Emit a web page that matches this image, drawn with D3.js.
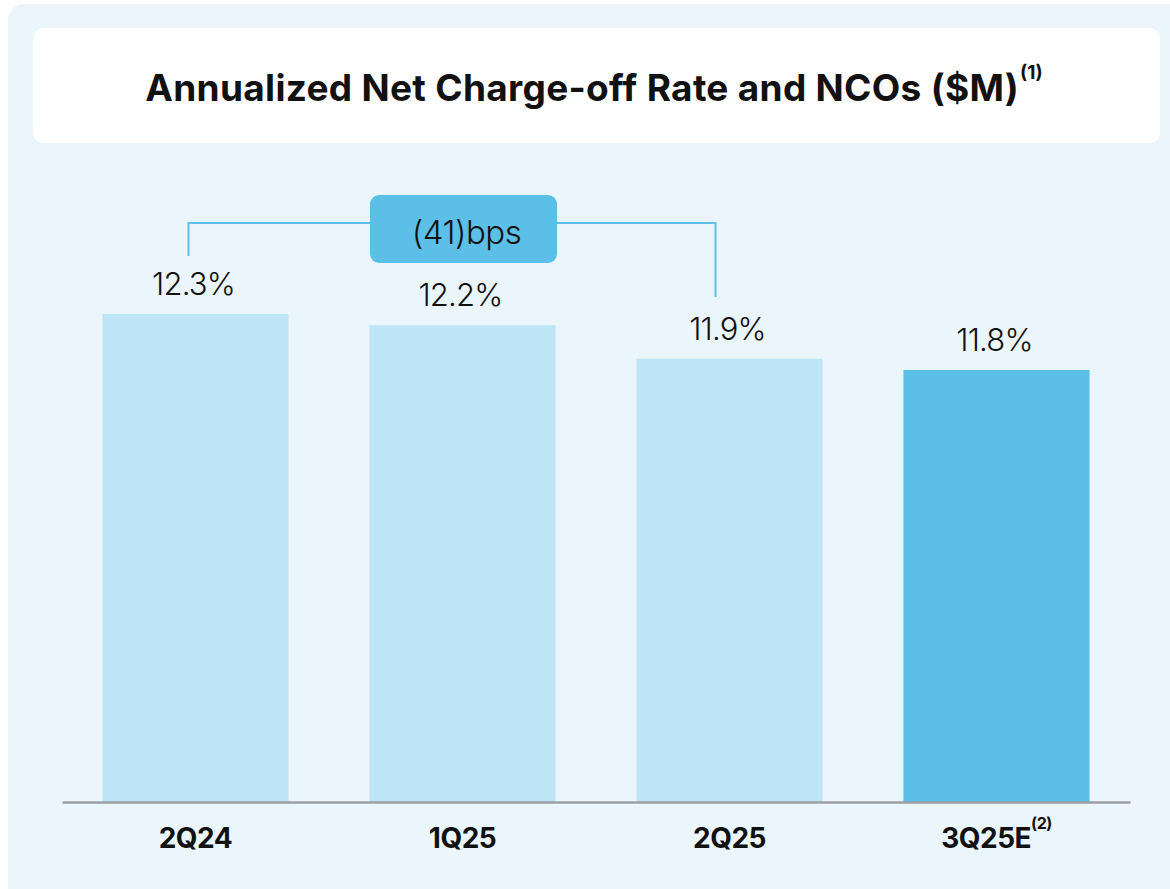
<!DOCTYPE html>
<html><head><meta charset="utf-8">
<script src="https://cdn.jsdelivr.net/npm/d3@7"></script>
<style>html,body{margin:0;padding:0;background:#fff;}svg{display:block;}</style>
</head><body>
<script>
const categories = ["2Q24", "1Q25", "2Q25", "3Q25E"];
const superscripts = ["", "", "", "(2)"];
const rates = [12.3, 12.2, 11.9, 11.8];
const rateLabels = ["12.3%", "12.2%", "11.9%", "11.8%"];
const highlight = [false, false, false, true];
const titleText = "Annualized Net Charge-off Rate and NCOs ($M)";
const titleSup = "(1)";
const bracketLabel = "(41)bps";
const bracketFrom = 0, bracketTo = 2;

const W = 1170, H = 889;
const svg = d3.select("body").append("svg").attr("width", W).attr("height", H);
const font = "Inter, 'Open Sans', sans-serif";

svg.append("rect").attr("x", 8).attr("y", 4).attr("width", 1180).attr("height", 900)
  .attr("rx", 16).attr("fill", "#eaf6fc");
svg.append("rect").attr("x", 33).attr("y", 28).attr("width", 1127).attr("height", 115)
  .attr("rx", 10).attr("fill", "#ffffff");

const title = svg.append("text").attr("x", 594).attr("y", 101).attr("text-anchor", "middle")
  .attr("font-family", font).attr("font-weight", 700).attr("font-size", 37)
  .attr("letter-spacing", 0.3).attr("fill", "#111");
title.append("tspan").text(titleText);
title.append("tspan").attr("dy", -22).attr("dx", 1).attr("font-size", 19).attr("letter-spacing", 0).text(titleSup);

const baseY = 802;
const x = d3.scaleBand().domain(categories).range([62, 1130]).paddingInner(0.303).paddingOuter(0.1515);
const y = d3.scaleLinear().domain([7.94, 12.3]).range([baseY, 314]);

svg.selectAll("rect.bar").data(categories).enter().append("rect").attr("class", "bar")
  .attr("x", d => x(d)).attr("width", x.bandwidth())
  .attr("y", (d, i) => y(rates[i])).attr("height", (d, i) => baseY - y(rates[i]))
  .attr("fill", (d, i) => highlight[i] ? "#5bbfe8" : "#bee5f5");

const axis = svg.append("g").attr("transform", `translate(0,${baseY})`)
  .call(d3.axisBottom(x).tickSize(0).tickFormat(""));
axis.select(".domain").attr("stroke", "#9c9fa3").attr("stroke-width", 2.5);
axis.selectAll(".tick text").remove();

categories.forEach((c, i) => {
  const t = svg.append("text").attr("x", x(c) + x.bandwidth() / 2).attr("y", 848)
    .attr("text-anchor", "middle").attr("font-family", font).attr("font-weight", 700)
    .attr("font-size", 28).attr("letter-spacing", -0.5).attr("fill", "#111");
  t.append("tspan").text(c);
  if (superscripts[i]) t.append("tspan").attr("dy", -19).attr("font-size", 16).text(superscripts[i]);
  svg.append("text").attr("x", x(c) + x.bandwidth() / 2 - 2).attr("y", y(rates[i]) - 19)
    .attr("text-anchor", "middle").attr("font-family", font).attr("font-weight", 300)
    .attr("font-size", 31).attr("letter-spacing", -0.8).attr("fill", "#111").text(rateLabels[i]);
});

// bracket
const xa = x(categories[bracketFrom]) + x.bandwidth() / 2 - 7;
const xb = x(categories[bracketTo]) + x.bandwidth() / 2 - 14;
const lineY = 223;
const boxX = 370, boxW = 187, boxY = 195, boxH = 68;
const lc = "#5bbfe8";
svg.append("path").attr("fill", "none").attr("stroke", lc).attr("stroke-width", 2)
  .attr("d", `M${xa},256 V${lineY} H${boxX}`);
svg.append("path").attr("fill", "none").attr("stroke", lc).attr("stroke-width", 2)
  .attr("d", `M${boxX + boxW},${lineY} H${xb} V297`);
svg.append("rect").attr("x", boxX).attr("y", boxY).attr("width", boxW).attr("height", boxH)
  .attr("rx", 9).attr("fill", lc);
svg.append("text").attr("x", boxX + boxW / 2 + 3).attr("y", 244).attr("text-anchor", "middle")
  .attr("font-family", font).attr("font-weight", 300).attr("font-size", 33).attr("letter-spacing", -0.5)
  .attr("fill", "#111").text(bracketLabel);
</script>
</body></html>
